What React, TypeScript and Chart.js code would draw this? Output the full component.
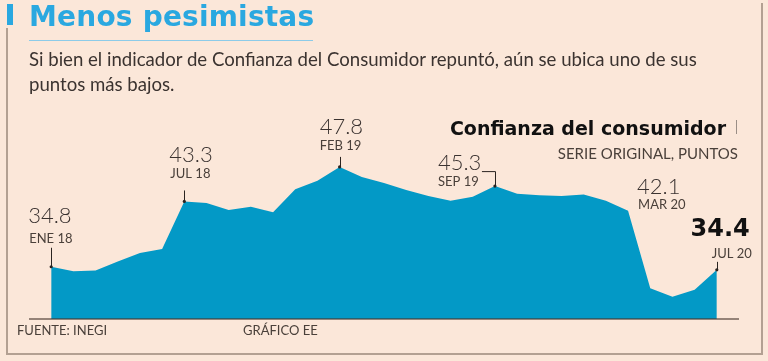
import React, { useEffect, useRef } from "react";
import { Chart, registerables } from "chart.js";

Chart.register(...registerables);

const monthNames = ["ENE", "FEB", "MAR", "ABR", "MAY", "JUN", "JUL", "AGO", "SEP", "OCT", "NOV", "DIC"];
const years = ["18", "19", "20"];
const categories: string[] = [];
for (const y of years) for (const m of monthNames) categories.push(`${m} ${y}`);
const periods = categories.slice(0, 31);

const values = [
  34.8, 34.2, 34.3, 35.5, 36.6, 37.1, 43.3, 43.1, 42.2, 42.6, 41.9, 44.9,
  46.0, 47.8, 46.5, 45.7, 44.8, 44.0, 43.4, 43.9, 45.3, 44.3, 44.1, 44.0,
  44.2, 43.4, 42.1, 32.0, 30.9, 31.8, 34.4,
];

const highlighted = [0, 6, 13, 20, 26, 30];

const yMin = 28;
const yMax = 50;

const title = "Menos pesimistas";
const subtitle = "Si bien el indicador de Confianza del Consumidor repuntó, aún se ubica uno de sus puntos más bajos.";
const chartTitle = "Confianza del consumidor";
const chartSubtitle = "SERIE ORIGINAL, PUNTOS";
const source = "FUENTE: INEGI";
const credit = "GRÁFICO EE";

// label placement relative to the point (styling)
const labelStyle: Record<number, any> = {
  0: { dx: -23, vy: -44, my: -24, lead: -19, align: "left", mdx: -22 },
  6: { dx: -15, vy: -39, my: -23, lead: -11, align: "left", mdx: -14 },
  13: { dx: -20, vy: -33, my: -17, lead: -10, align: "left", mdx: -20 },
  20: { dx: -57, vy: -16, my: 0, elbow: -15, elbowDx: -13, align: "left", mdx: -57 },
  26: { dx: 9, vy: -17, my: -2, align: "left", mdx: 10 },
  30: { dx: 33, vy: -34, my: -12, lead: -8, align: "right", mdx: 35, bold: true },
};

const annotationPlugin = {
  id: "annotations",
  afterDatasetsDraw(chart: any) {
    const { ctx, scales } = chart;
    const xs = scales.x;
    const ys = scales.y;
    ctx.save();
    // baseline axis
    const by = ys.getPixelForValue(yMin);
    ctx.strokeStyle = "rgba(70,55,45,0.75)";
    ctx.lineWidth = 1.5;
    ctx.beginPath();
    ctx.moveTo(xs.getPixelForValue(-1), by);
    ctx.lineTo(xs.getPixelForValue(31), by);
    ctx.stroke();

    for (const i of highlighted) {
      const s = labelStyle[i];
      const px = xs.getPixelForValue(i);
      const py = ys.getPixelForValue(values[i]);
      ctx.strokeStyle = "#2a2420";
      ctx.fillStyle = "#2a2420";
      ctx.lineWidth = 1;
      if (s.lead !== undefined) {
        ctx.beginPath();
        ctx.moveTo(Math.round(px) + 0.5, py);
        ctx.lineTo(Math.round(px) + 0.5, py + s.lead);
        ctx.stroke();
      }
      if (s.elbow !== undefined) {
        ctx.beginPath();
        ctx.moveTo(px + s.elbowDx, py + s.elbow + 0.5);
        ctx.lineTo(Math.round(px) + 0.5, py + s.elbow + 0.5);
        ctx.lineTo(Math.round(px) + 0.5, py);
        ctx.stroke();
      }
      if (s.lead !== undefined || s.elbow !== undefined) {
        ctx.beginPath();
        ctx.arc(px, py, 1.6, 0, Math.PI * 2);
        ctx.fill();
      }
      ctx.textAlign = s.align;
      ctx.textBaseline = "alphabetic";
      if (s.bold) {
        ctx.fillStyle = "#111";
        ctx.font = "bold 24px 'DejaVu Sans'";
      } else {
        ctx.fillStyle = "#3a3230";
        ctx.font = "300 22px Lato";
      }
      ctx.fillText(values[i].toFixed(1), px + s.dx, py + s.vy);
      ctx.fillStyle = "#4a403a";
      ctx.font = "400 13px Lato";
      ctx.fillText(periods[i], px + s.mdx, py + s.my);
    }
    ctx.restore();
  },
};

export default function App() {
  const ref = useRef<HTMLCanvasElement | null>(null);

  useEffect(() => {
    document.body.style.margin = "0";
    const canvas = ref.current;
    if (!canvas) return;
    const chart = new Chart(canvas, {
      type: "line",
      data: {
        datasets: [
          {
            data: values.map((v, i) => ({ x: i, y: v })),
            borderWidth: 0,
            borderColor: "rgba(0,0,0,0)",
            backgroundColor: "#0399c6",
            fill: "start",
            pointRadius: 0,
            tension: 0,
          },
        ],
      },
      options: {
        responsive: false,
        animation: false,
        events: [],
        layout: { padding: { left: 29, right: 29, top: 150, bottom: 42 } },
        plugins: { legend: { display: false }, tooltip: { enabled: false }, title: { display: false } },
        scales: {
          x: { type: "linear", min: -1, max: 31, display: false },
          y: { type: "linear", min: yMin, max: yMax, display: false },
        },
      },
      plugins: [annotationPlugin],
    });
    return () => chart.destroy();
  }, []);

  const abs = (s: React.CSSProperties): React.CSSProperties => ({ position: "absolute", ...s });

  return (
    <div style={{ position: "relative", width: 768, height: 361, background: "#fbe7d9", overflow: "hidden" }}>
      <canvas ref={ref} width={768} height={361} style={abs({ left: 0, top: 0, width: 768, height: 361 })} />
      {/* frame */}
      <div style={abs({ left: 6, top: 28, width: 1.5, height: 327, background: "#b3a092" })} />
      <div style={abs({ left: 6, top: 353, width: 757, height: 1.5, background: "#b3a092" })} />
      <div style={abs({ left: 761, top: 3, width: 1.5, height: 352, background: "#b3a092" })} />
      {/* title */}
      <div style={abs({ left: 7, top: 4, width: 6, height: 21, background: "#2aa8e0" })} />
      <div
        style={abs({
          left: 29,
          top: 3,
          fontFamily: "'DejaVu Sans'",
          fontWeight: 700,
          fontSize: 28,
          lineHeight: "28px",
          letterSpacing: 0.2,
          color: "#2aa8e0",
          whiteSpace: "nowrap",
        })}
      >
        {title}
      </div>
      <div style={abs({ left: 29, top: 40, width: 284, height: 1, background: "#8ccbe8" })} />
      <div
        style={abs({
          left: 29,
          top: 47,
          width: 700,
          fontFamily: "Lato",
          fontSize: 18.6,
          lineHeight: "25px",
          color: "#3b3330",
        })}
      >
        {subtitle}
      </div>
      {/* chart title */}
      <div
        style={abs({
          right: 42,
          top: 119,
          fontFamily: "'DejaVu Sans'",
          fontWeight: 700,
          fontSize: 19,
          lineHeight: "19px",
          color: "#111",
          whiteSpace: "nowrap",
        })}
      >
        {chartTitle}
      </div>
      <div style={abs({ left: 736, top: 120, width: 1, height: 14, background: "#9a8e86" })} />
      <div
        style={abs({
          right: 30,
          top: 145.7,
          fontFamily: "Lato",
          fontSize: 15,
          lineHeight: "15px",
          color: "#4a403a",
          whiteSpace: "nowrap",
        })}
      >
        {chartSubtitle}
      </div>
      {/* footer */}
      <div style={abs({ left: 17, top: 324, fontFamily: "Lato", fontSize: 13, lineHeight: "13px", color: "#4a403a" })}>
        {source}
      </div>
      <div style={abs({ left: 243, top: 324, fontFamily: "Lato", fontSize: 13, lineHeight: "13px", color: "#4a403a" })}>
        {credit}
      </div>
    </div>
  );
}
